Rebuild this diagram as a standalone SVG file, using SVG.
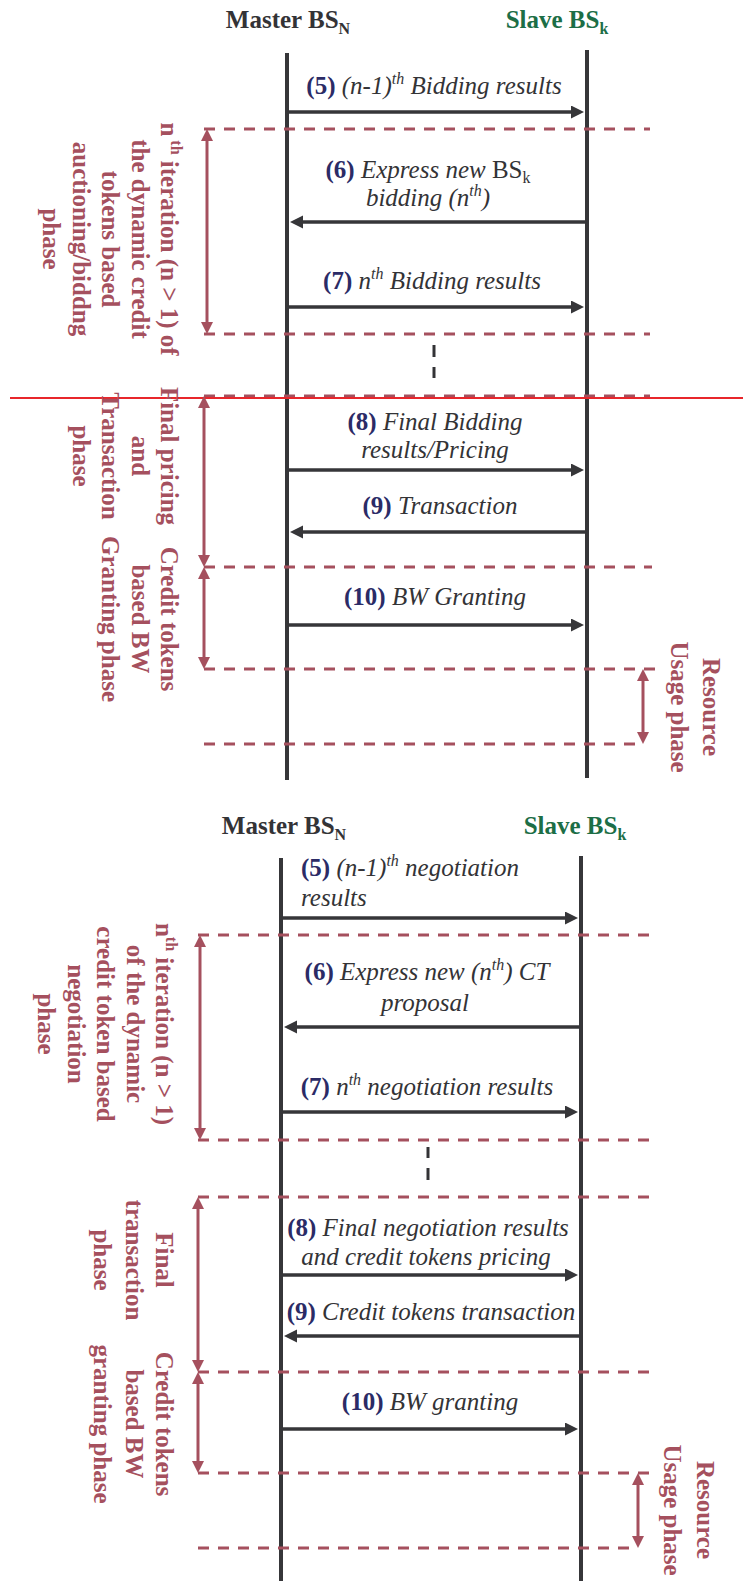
<svg xmlns="http://www.w3.org/2000/svg" width="743" height="1581" viewBox="0 0 743 1581">
<style>
.title{font-family:"Liberation Serif","Times New Roman",serif;font-weight:bold;font-size:25px;text-anchor:middle}
.master{fill:#333336}
.slave{fill:#1c6e46}
.life{stroke:#363639;stroke-width:4;fill:none}
.msg{stroke:#363639;stroke-width:3.5;fill:none}
.lbl{font-family:"Liberation Serif","Times New Roman",serif;font-style:italic;font-size:25px;fill:#333336}
.num{font-style:normal;font-weight:bold;fill:#2b2b66}
.up{font-style:normal}
.phase{stroke:#a5505e;stroke-width:3;stroke-dasharray:11 9;fill:none}
.span{stroke:#a5505e;stroke-width:3;fill:none}
.ptxt{font-family:"Liberation Serif","Times New Roman",serif;font-weight:bold;font-size:25px;fill:#a5505e;text-anchor:middle}
.dots{stroke:#333336;stroke-width:3;fill:none}
</style>
<defs>
<marker id="ah" markerUnits="userSpaceOnUse" markerWidth="14" markerHeight="14" refX="7" refY="6.5" orient="auto"><path d="M0,0 L13,6.5 L0,13 z" fill="#363639"/></marker>
<marker id="ph" markerUnits="userSpaceOnUse" markerWidth="13" markerHeight="13" refX="6" refY="6" orient="auto-start-reverse"><path d="M0,0 L12,6 L0,12 z" fill="#a5505e"/></marker>
</defs>

<!-- ===== TOP DIAGRAM ===== -->
<g id="top-master"><text class="title master" x="288" y="28">Master BS<tspan font-size="16" dy="6">N</tspan></text><line class="life" x1="287" y1="53" x2="287" y2="780"/></g>
<g id="top-slave"><text class="title slave" x="557" y="28">Slave BS<tspan font-size="16" dy="6">k</tspan></text><line class="life" x1="587" y1="50" x2="587" y2="778"/></g>

<g id="top-phase-lines">
<line class="phase" x1="204" y1="129" x2="650" y2="129"/>
<line class="phase" x1="204" y1="334" x2="650" y2="334"/>
<line class="phase" x1="204" y1="396" x2="650" y2="396"/>
<line class="phase" x1="204" y1="567" x2="652" y2="567"/>
<line class="phase" x1="204" y1="669" x2="660" y2="669"/>
<line class="phase" x1="204" y1="744" x2="640" y2="744"/>
<line class="dots" x1="434" y1="345" x2="434" y2="357"/>
<line class="dots" x1="434" y1="367" x2="434" y2="378"/>
</g>
<line id="red-divider" x1="10" y1="398" x2="743" y2="398" stroke="#e8262b" stroke-width="2"/>

<g id="top-connectors">
<line class="msg" x1="287" y1="112" x2="578" y2="112" marker-end="url(#ah)"/>
<line class="msg" x1="585" y1="222" x2="296" y2="222" marker-end="url(#ah)"/>
<line class="msg" x1="287" y1="307" x2="578" y2="307" marker-end="url(#ah)"/>
<line class="msg" x1="287" y1="470" x2="578" y2="470" marker-end="url(#ah)"/>
<line class="msg" x1="585" y1="532" x2="296" y2="532" marker-end="url(#ah)"/>
<line class="msg" x1="287" y1="625" x2="578" y2="625" marker-end="url(#ah)"/>
<line class="span" x1="207" y1="135" x2="207" y2="328" marker-start="url(#ph)" marker-end="url(#ph)"/>
<line class="span" x1="204" y1="402" x2="204" y2="561" marker-start="url(#ph)" marker-end="url(#ph)"/>
<line class="span" x1="204" y1="573" x2="204" y2="663" marker-start="url(#ph)" marker-end="url(#ph)"/>
<line class="span" x1="643" y1="675" x2="643" y2="738" marker-start="url(#ph)" marker-end="url(#ph)"/>
</g>

<g id="top-labels">
<text class="lbl" x="434" y="94" text-anchor="middle"><tspan class="num">(5)</tspan> (n-1)<tspan font-size="16" dy="-10">th</tspan><tspan dy="10"> Bidding results</tspan></text>
<text class="lbl" x="428" y="178" text-anchor="middle"><tspan class="num">(6)</tspan> Express new <tspan class="up">BS</tspan><tspan class="up" font-size="16" dy="5">k</tspan></text>
<text class="lbl" x="428" y="206" text-anchor="middle">bidding (n<tspan font-size="16" dy="-10">th</tspan><tspan dy="10">)</tspan></text>
<text class="lbl" x="432" y="289" text-anchor="middle"><tspan class="num">(7)</tspan> n<tspan font-size="16" dy="-10">th</tspan><tspan dy="10"> Bidding results</tspan></text>
<text class="lbl" x="435" y="430" text-anchor="middle"><tspan class="num">(8)</tspan> Final Bidding</text>
<text class="lbl" x="435" y="458" text-anchor="middle">results/Pricing</text>
<text class="lbl" x="440" y="514" text-anchor="middle"><tspan class="num">(9)</tspan> Transaction</text>
<text class="lbl" x="435" y="605" text-anchor="middle"><tspan class="num">(10)</tspan> BW Granting</text>
</g>

<g id="top-phase-auction"><text class="ptxt" transform="translate(161,239) rotate(90)"><tspan x="0" y="0">n</tspan><tspan font-size="16" dy="-10"> th</tspan><tspan dy="10"> iteration (n &gt; 1) of</tspan><tspan x="0" dy="29.5">the dynamic credit</tspan><tspan x="0" dy="29.5">tokens based</tspan><tspan x="0" dy="29.5">auctioning/biddng</tspan><tspan x="0" dy="29.5">phase</tspan></text></g>
<g id="top-phase-pricing"><text class="ptxt" transform="translate(161,456) rotate(90)"><tspan x="0" y="0">Final pricing</tspan><tspan x="0" dy="29.5">and</tspan><tspan x="0" dy="29.5">Transaction</tspan><tspan x="0" dy="29.5">phase</tspan></text></g>
<g id="top-phase-granting"><text class="ptxt" transform="translate(161,619) rotate(90)"><tspan x="0" y="0">Credit tokens</tspan><tspan x="0" dy="29.5">based BW</tspan><tspan x="0" dy="29.5">Granting phase</tspan></text></g>
<g id="top-phase-usage"><text class="ptxt" transform="translate(703,707) rotate(90)"><tspan x="0" y="0">Resource</tspan><tspan x="0" dy="32">Usage phase</tspan></text></g>

<!-- ===== BOTTOM DIAGRAM ===== -->
<g id="bot-master"><text class="title master" x="284" y="834">Master BS<tspan font-size="16" dy="6">N</tspan></text><line class="life" x1="281" y1="858" x2="281" y2="1581"/></g>
<g id="bot-slave"><text class="title slave" x="575" y="834">Slave BS<tspan font-size="16" dy="6">k</tspan></text><line class="life" x1="581" y1="856" x2="581" y2="1581"/></g>

<g id="bot-phase-lines">
<line class="phase" x1="198" y1="935" x2="652" y2="935"/>
<line class="phase" x1="198" y1="1140" x2="652" y2="1140"/>
<line class="phase" x1="198" y1="1197" x2="652" y2="1197"/>
<line class="phase" x1="198" y1="1372" x2="652" y2="1372"/>
<line class="phase" x1="198" y1="1473" x2="652" y2="1473"/>
<line class="phase" x1="198" y1="1548" x2="638" y2="1548"/>
<line class="dots" x1="428" y1="1147" x2="428" y2="1158"/>
<line class="dots" x1="428" y1="1168" x2="428" y2="1180"/>
</g>

<g id="bot-connectors">
<line class="msg" x1="281" y1="918" x2="572" y2="918" marker-end="url(#ah)"/>
<line class="msg" x1="579" y1="1027" x2="290" y2="1027" marker-end="url(#ah)"/>
<line class="msg" x1="281" y1="1112" x2="572" y2="1112" marker-end="url(#ah)"/>
<line class="msg" x1="281" y1="1275" x2="572" y2="1275" marker-end="url(#ah)"/>
<line class="msg" x1="579" y1="1336" x2="290" y2="1336" marker-end="url(#ah)"/>
<line class="msg" x1="281" y1="1429" x2="572" y2="1429" marker-end="url(#ah)"/>
<line class="span" x1="200" y1="941" x2="200" y2="1134" marker-start="url(#ph)" marker-end="url(#ph)"/>
<line class="span" x1="198" y1="1203" x2="198" y2="1366" marker-start="url(#ph)" marker-end="url(#ph)"/>
<line class="span" x1="198" y1="1378" x2="198" y2="1467" marker-start="url(#ph)" marker-end="url(#ph)"/>
<line class="span" x1="638" y1="1479" x2="638" y2="1542" marker-start="url(#ph)" marker-end="url(#ph)"/>
</g>

<g id="bot-labels">
<text class="lbl" x="301" y="876"><tspan class="num">(5)</tspan> (n-1)<tspan font-size="16" dy="-10">th</tspan><tspan dy="10"> negotiation</tspan></text>
<text class="lbl" x="301" y="906">results</text>
<text class="lbl" x="427" y="980" text-anchor="middle"><tspan class="num">(6)</tspan> Express new (n<tspan font-size="16" dy="-10">th</tspan><tspan dy="10">) CT</tspan></text>
<text class="lbl" x="425" y="1011" text-anchor="middle">proposal</text>
<text class="lbl" x="427" y="1095" text-anchor="middle"><tspan class="num">(7)</tspan> n<tspan font-size="16" dy="-10">th</tspan><tspan dy="10"> negotiation results</tspan></text>
<text class="lbl" x="428" y="1236" text-anchor="middle"><tspan class="num">(8)</tspan> Final negotiation results</text>
<text class="lbl" x="426" y="1265" text-anchor="middle">and credit tokens pricing</text>
<text class="lbl" x="431" y="1320" text-anchor="middle"><tspan class="num">(9)</tspan> Credit tokens transaction</text>
<text class="lbl" x="430" y="1410" text-anchor="middle"><tspan class="num">(10)</tspan> BW granting</text>
</g>

<g id="bot-phase-negotiation"><text class="ptxt" transform="translate(156,1024) rotate(90)"><tspan x="0" y="0">n</tspan><tspan font-size="16" dy="-10">th</tspan><tspan dy="10"> iteration (n &gt; 1)</tspan><tspan x="0" dy="29.5">of the dynamic</tspan><tspan x="0" dy="29.5">credit token based</tspan><tspan x="0" dy="29.5">negotiation</tspan><tspan x="0" dy="29.5">phase</tspan></text></g>
<g id="bot-phase-transaction"><text class="ptxt" transform="translate(156,1260) rotate(90)"><tspan x="0" y="0">Final</tspan><tspan x="0" dy="30">transaction</tspan><tspan x="0" dy="32">phase</tspan></text></g>
<g id="bot-phase-granting"><text class="ptxt" transform="translate(156,1424) rotate(90)"><tspan x="0" y="0">Credit tokens</tspan><tspan x="0" dy="30">based BW</tspan><tspan x="0" dy="32">granting phase</tspan></text></g>
<g id="bot-phase-usage"><text class="ptxt" transform="translate(697,1510) rotate(90)"><tspan x="0" y="0">Resource</tspan><tspan x="0" dy="33">Usage phase</tspan></text></g>
</svg>
